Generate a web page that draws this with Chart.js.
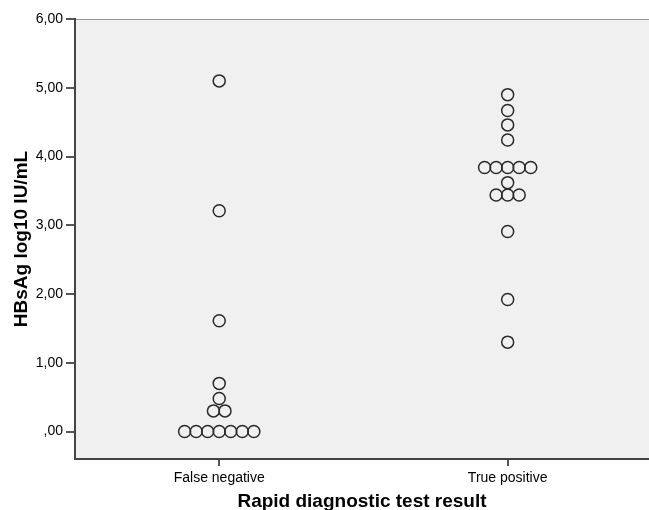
<!DOCTYPE html>
<html>
<head>
<meta charset="utf-8">
<script src="https://cdn.jsdelivr.net/npm/chart.js@4"></script>
<style>
  body { margin: 0; background: #fff; }
</style>
</head>
<body>
<canvas id="dotChart" width="649" height="510"></canvas>
<script>
// categories and values
const categories = ["False negative", "True positive"];
const falseNegative = [5.10, 3.21, 1.61, 0.70, 0.48, 0.30, 0.30, 0, 0, 0, 0, 0, 0, 0];
const truePositive = [4.90, 4.67, 4.46, 4.24, 3.84, 3.84, 3.84, 3.84, 3.84, 3.62, 3.44, 3.44, 3.44, 2.91, 1.92, 1.30];
const yTicks = [0, 1, 2, 3, 4, 5, 6];

const dotStep = 0.04; // side-by-side spacing of equal values, in category units

// identical values are laid next to each other, centred on the category
function swarm(values, catIndex) {
  const counts = {};
  values.forEach((v) => { counts[v] = (counts[v] || 0) + 1; });
  const seen = {};
  return values.map((v) => {
    const i = seen[v] || 0;
    seen[v] = i + 1;
    return { x: catIndex + (i - (counts[v] - 1) / 2) * dotStep, y: v };
  });
}

const fmt = (v) => {
  const s = v.toFixed(2).replace(".", ",");
  return s.startsWith("0,") ? s.slice(1) : s;
};

// plot background + top border
const plotBg = {
  id: "plotBg",
  beforeDraw(chart) {
    const { ctx, chartArea: a } = chart;
    ctx.save();
    ctx.fillStyle = "#f0f0f0";
    ctx.fillRect(a.left, a.top, a.right - a.left, a.bottom - a.top);
    ctx.strokeStyle = "#999";
    ctx.lineWidth = 1;
    ctx.beginPath();
    ctx.moveTo(a.left, a.top + 0.5);
    ctx.lineTo(a.right, a.top + 0.5);
    ctx.stroke();
    ctx.restore();
  },
};

const dotStyle = {
  pointRadius: 6,
  pointHoverRadius: 6,
  pointBorderWidth: 1.5,
  pointBorderColor: "#2a2a2a",
  pointBackgroundColor: "rgba(0,0,0,0)",
};

const ctx = document.getElementById("dotChart").getContext("2d");

const dotChart = new Chart(ctx, {
  type: "scatter",
  data: {
    datasets: [
      { label: categories[0], data: swarm(falseNegative, 0), ...dotStyle },
      { label: categories[1], data: swarm(truePositive, 1), ...dotStyle },
    ],
  },
  options: {
    responsive: false,
    animation: false,
    layout: { autoPadding: false, padding: { top: 19, right: 0, left: 0, bottom: 0 } },
    plugins: {
      legend: { display: false },
      tooltip: { enabled: false },
    },
    scales: {
      x: {
        type: "linear",
        min: -0.5,
        max: 1.49,
        afterBuildTicks: (scale) => {
          scale.ticks = categories.map((c, i) => ({ value: i }));
        },
        afterFit: (scale) => {
          scale.height = 51;
          scale.paddingLeft = 0;
          scale.paddingRight = 0;
        },
        ticks: {
          color: "#000",
          font: { family: "'Liberation Sans', Arial", size: 14 },
          padding: 4,
          callback: (v) => categories[v],
        },
        grid: { drawOnChartArea: false, tickLength: 7, color: "#555", lineWidth: 2 },
        border: { color: "#444", width: 2 },
        title: {
          display: true,
          text: "Rapid diagnostic test result",
          color: "#000",
          font: { family: "'Liberation Sans', Arial", size: 19, weight: "bold", lineHeight: 0.9 },
          padding: { top: 0, bottom: 0 },
        },
      },
      y: {
        min: -0.4,
        max: 6,
        afterBuildTicks: (scale) => {
          scale.ticks = yTicks.map((v) => ({ value: v }));
        },
        afterFit: (scale) => { scale.width = 75; },
        ticks: {
          color: "#000",
          font: { family: "'Liberation Sans', Arial", size: 14 },
          padding: 3,
          callback: (v) => fmt(v),
        },
        grid: { drawOnChartArea: false, tickLength: 9, color: "#555", lineWidth: 2 },
        border: { color: "#444", width: 2 },
        title: {
          display: true,
          text: "HBsAg log10 IU/mL",
          color: "#000",
          font: { family: "'Liberation Sans', Arial", size: 19, weight: "bold" },
          padding: { top: 10, bottom: 0 },
        },
      },
    },
  },
  plugins: [plotBg],
});
</script>
</body>
</html>
